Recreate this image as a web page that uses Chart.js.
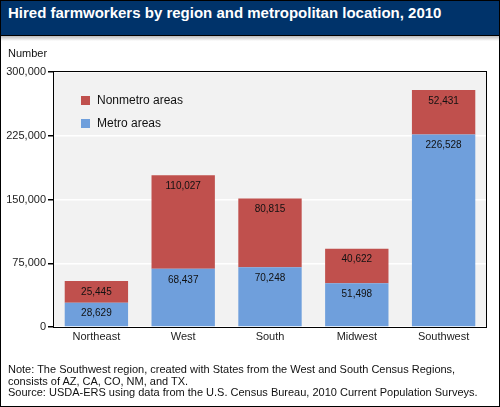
<!DOCTYPE html>
<html><head><meta charset="utf-8">
<script src="https://cdn.jsdelivr.net/npm/chart.js@4/dist/chart.umd.min.js"></script>
<style>
body{margin:0;background:#fff;font-family:Arial,'Liberation Sans',sans-serif}
#wrap{position:relative;width:500px;height:407px;overflow:hidden}
#hdr{position:absolute;left:0;top:0;width:500px;height:35px;background:#00336a;border-bottom:1px solid #000}
#hdr div{position:absolute;left:8px;top:4px;color:#fff;font-weight:bold;font-size:15px}
#shadow{position:absolute;left:0;top:36px;width:500px;height:5px;background:linear-gradient(#bbb,#fff)}
#unit{position:absolute;left:8px;top:47px;font-size:11px;color:#111}
#note{position:absolute;left:8px;top:364px;font-size:11px;line-height:11.5px;color:#111}
#frame{position:absolute;left:0;top:0;width:498px;height:405px;border:1px solid #000;pointer-events:none}
canvas{position:absolute;left:0;top:0}
</style></head>
<body>
<div id="wrap">
<canvas id="c" width="500" height="407"></canvas>
<div id="shadow"></div>
<div id="hdr"><div>Hired farmworkers by region and metropolitan location, 2010</div></div>
<div id="unit">Number</div>
<div id="note">Note: The Southwest region, created with States from the West and South Census Regions,<br>consists of AZ, CA, CO, NM, and TX.<br>Source: USDA-ERS using data from the U.S. Census Bureau, 2010 Current Population Surveys.</div>
<div id="frame"></div>
</div>
<script>
const regions=['Northeast','West','South','Midwest','Southwest'];
const metro=[28629,68437,70248,51498,226528];
const nonmetro=[25445,110027,80815,40622,52431];
const yTicks=[0,75000,150000,225000,300000];
const FONT="Arial, 'Liberation Sans', sans-serif";

// plot background + black frame
const plotBg={id:'plotBg',
beforeDraw(ch){const a=ch.chartArea,x=ch.ctx;x.save();x.fillStyle='#f2f2f2';x.fillRect(a.left,a.top,a.right-a.left,a.bottom-a.top);x.restore();},
afterDraw(ch){const a=ch.chartArea,x=ch.ctx;x.save();x.strokeStyle='#000';x.lineWidth=1;x.strokeRect(Math.round(a.left)+0.5,Math.round(a.top)-0.5,Math.round(a.right-a.left)-1,Math.round(a.bottom-a.top)+1);x.restore();}};

// value labels near top of each segment
const valLabels={id:'valLabels',
afterDatasetsDraw(ch){const x=ch.ctx;x.save();x.font='10px '+FONT;x.fillStyle='#111';x.textAlign='center';x.textBaseline='middle';
ch.data.datasets.forEach((ds,i)=>{ch.getDatasetMeta(i).data.forEach((b,j)=>{x.fillText(ds.data[j].toLocaleString('en-US'),b.x,b.y+11);});});
x.restore();}};

// legend inside plot, nonmetro first
const inLegend={id:'inLegend',
afterDraw(ch){const a=ch.chartArea,x=ch.ctx;x.save();x.font='12px '+FONT;x.textBaseline='middle';
const items=[ch.data.datasets[1],ch.data.datasets[0]];
items.forEach((ds,i)=>{const y=a.top+29+i*23;x.fillStyle=ds.backgroundColor;x.fillRect(a.left+28,y-5,9,9);x.fillStyle='#111';x.fillText(ds.label,a.left+44,y);});
x.restore();}};

new Chart(document.getElementById('c'),{
type:'bar',
data:{labels:regions,datasets:[
{label:'Metro areas',data:metro,backgroundColor:'#6f9fdc'},
{label:'Nonmetro areas',data:nonmetro,backgroundColor:'#c0504d'}
]},
options:{responsive:false,animation:false,
layout:{padding:{top:72,right:13,left:0,bottom:0}},
datasets:{bar:{barPercentage:0.73,categoryPercentage:1}},
scales:{
x:{stacked:true,grid:{display:false,drawTicks:false},border:{display:false},
ticks:{color:'#222',font:{size:11,family:FONT},padding:3},
afterFit(s){s.height=80;}},
y:{stacked:true,min:0,max:300000,border:{display:false},
afterBuildTicks(s){s.ticks=yTicks.map(v=>({value:v}));},
grid:{color:'#fff',lineWidth:1.5,tickColor:'#000',tickLength:5,drawTicks:true},
ticks:{color:'#222',font:{size:11,family:FONT},padding:2,callback:v=>v.toLocaleString('en-US')},
afterFit(s){s.width=53;}}
},
plugins:{legend:{display:false},tooltip:{enabled:false}}},
plugins:[plotBg,valLabels,inLegend]
});
</script>
</body></html>
